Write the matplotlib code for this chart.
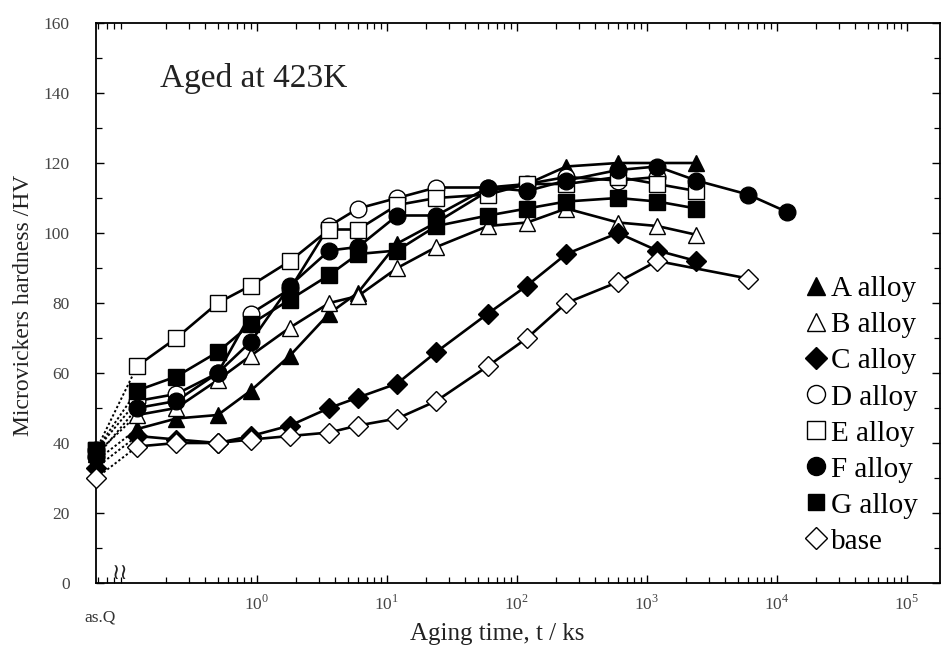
import numpy as np
import matplotlib
matplotlib.use('Agg')
import matplotlib.pyplot as plt
from matplotlib.lines import Line2D
from matplotlib.ticker import LogLocator, MultipleLocator, NullFormatter, FixedLocator, FixedFormatter

plt.rcParams['font.family'] = ['Liberation Serif', 'DejaVu Serif']
plt.rcParams['mathtext.fontset'] = 'custom'
plt.rcParams['mathtext.rm'] = 'Liberation Serif'

# ---- data ----
times = [0.12, 0.24, 0.5, 0.9, 1.8, 3.6, 6, 12, 24, 60, 120, 240, 600, 1200, 2400, 6000, 12000]
as_q_time = 0.058
N = None

names = ['A alloy', 'B alloy', 'C alloy', 'D alloy', 'E alloy', 'F alloy', 'G alloy', 'base']

a_asq = 35
a_hv = [44, 47, 48, 55, 65, 77, 83, 97, 103, 112, 114, 119, 120, N, 120, N, N]
b_asq = 37
b_hv = [48, 50, 58, 65, 73, 80, 82, 90, 96, 102, 103, 107, 103, 102, 99.5, N, N]
c_asq = 33
c_hv = [42, 41, 40, 42, 45, 50, 53, 57, 66, 77, 85, 94, 100, 95, 92, N, N]
d_asq = 38
d_hv = [52, 54, 60, 77, 84, 102, 107, 110, 113, 113, 114, 116, 115, 116, N, N, N]
e_asq = 38
e_hv = [62, 70, 80, 85, 92, 101, 101, 108, 110, 111, 114, 114, 116, 114, 112, N, N]
f_asq = 36
f_hv = [50, 52, 60, 69, 85, 95, 96, 105, 105, 113, 112, 115, 118, 119, 115, 111, 106]
g_asq = 38
g_hv = [55, 59, 66, 74, 81, 88, 94, 95, 102, 105, 107, 109, 110, 109, 107, N, N]
base_asq = 30
base_hv = [39, 40, 40, 41, 42, 43, 45, 47, 52, 62, 70, 80, 86, 92, N, 87, N]

asq_vals = [a_asq, b_asq, c_asq, d_asq, e_asq, f_asq, g_asq, base_asq]
hv_vals = [a_hv, b_hv, c_hv, d_hv, e_hv, f_hv, g_hv, base_hv]

markers = ['^', '^', 'D', 'o', 's', 'o', 's', 'D']
faces = ['black', 'white', 'black', 'white', 'white', 'black', 'black', 'white']
msizes = [12, 12, 10, 12, 12, 12, 11, 10]

# ---- figure ----
fig = plt.figure(figsize=(9.42, 6.5), dpi=100)
ax = fig.add_axes([96/942, 1-583/650, (940-96)/942, (583-23)/650])
ax.set_xscale('log')
ax.set_xlim(0.0578, 1.8e5)
ax.set_ylim(0, 160)

for i in range(len(names)):
    t = [tt for tt, v in zip(times, hv_vals[i]) if v is not None]
    v = [vv for vv in hv_vals[i] if vv is not None]
    # dotted link from as-quenched state to first aging point
    ax.plot([as_q_time, t[0]], [asq_vals[i], v[0]], ls=(0, (1.2, 1.2)), color='black', lw=1.4, zorder=2)
    ax.plot(t, v, color='black', lw=1.9, zorder=2)
    ax.plot(t, v, ls='none', marker=markers[i], ms=msizes[i], mfc=faces[i],
            mec='black', mew=1.0, zorder=3)
    ax.plot([as_q_time], [asq_vals[i]], ls='none', marker=markers[i], ms=msizes[i],
            mfc=faces[i], mec='black', mew=1.0, zorder=4, clip_on=False)

# ---- axes styling ----
for s in ax.spines.values():
    s.set_linewidth(1.3)
ax.tick_params(which='both', direction='in', top=True, right=True, colors='black')
ax.tick_params(which='major', length=6, width=1.0, labelsize=12.5, labelcolor='#444444')
ax.tick_params(axis='y', which='major', pad=19)
ax.tick_params(axis='x', which='major', pad=8)
ax.tick_params(which='minor', length=4, width=0.9)
ax.yaxis.set_major_locator(MultipleLocator(20))
ax.yaxis.set_minor_locator(MultipleLocator(10))
ax.xaxis.set_major_locator(FixedLocator([1, 10, 100, 1000, 1e4, 1e5]))
ax.xaxis.set_major_formatter(FixedFormatter(['10$^{0}$', '10$^{1}$', '10$^{2}$', '10$^{3}$', '10$^{4}$', '10$^{5}$']))
ax.xaxis.set_minor_locator(LogLocator(base=10, subs=np.arange(2, 10), numticks=20))
ax.xaxis.set_minor_formatter(NullFormatter())

fig.text(497/942, 1-634/650, 'Aging time, t / ks', fontsize=18, color='#222222',
         ha='center', va='center')
fig.text(24/942, 1-305/650, 'Microvickers hardness /HV', fontsize=17, color='#222222',
         ha='center', va='center', rotation=90)

fig.text(160/942, 1-78/650, 'Aged at 423K', fontsize=24,
         va='center', ha='left', color='#222222')
fig.text(84/942, 1-618/650, 'as.Q', fontsize=12.5, color='#333333', va='center', ha='left')
fig.text(120/942, 1-573/650, '\u2240\u2240', fontsize=16,
         family='DejaVu Sans', va='center', ha='center', color='#222222')

handles = [Line2D([], [], ls='none', marker=markers[i], ms=msizes[i] + 1, mfc=faces[i],
                  mec='black', mew=1.0) for i in range(len(names))]
fig.legend(handles, names, loc='upper left', bbox_to_anchor=(806/942, 1-276/650),
           frameon=False, fontsize=21, handlelength=0.7, handletextpad=0.15,
           labelspacing=0.33, borderpad=0, borderaxespad=0)

fig.savefig('out.png', dpi=100)
